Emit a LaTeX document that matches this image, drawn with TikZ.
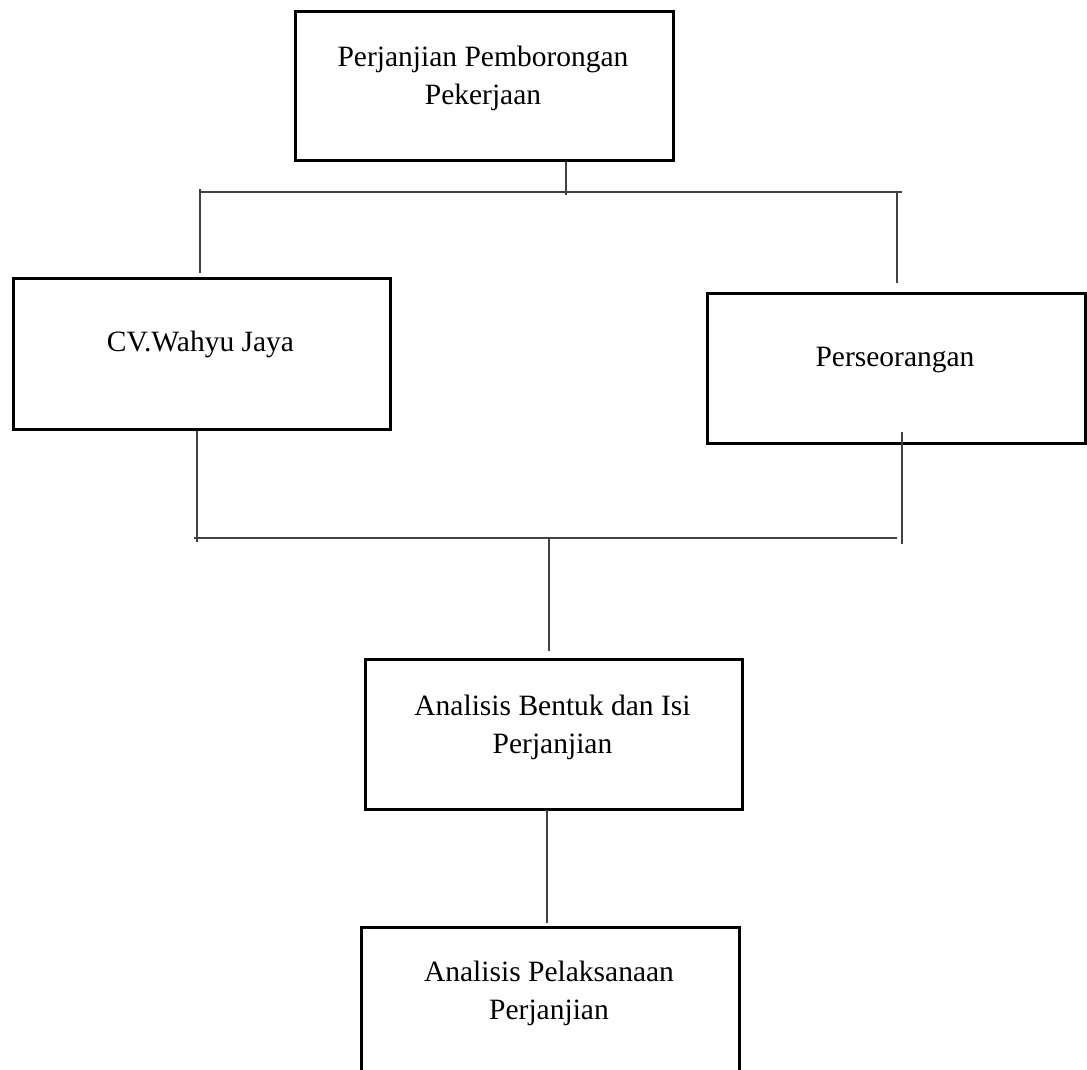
\documentclass[tikz,border=0pt]{standalone}
\usepackage{fontspec}
\setmainfont{Liberation Serif}
\begin{document}
\begin{tikzpicture}[x=1pt,y=-1pt,
  box/.style={draw=black,line width=2.8pt,rectangle,inner sep=0pt,anchor=north west},
  lbl/.style={font=\fontsize{29.5}{38}\selectfont,align=center,inner sep=0pt,anchor=base},
  conn/.style={draw=black!75,line width=1.4pt}]
\clip (0,0) rectangle (1087,1070);
\fill[white] (0,0) rectangle (1087,1070);
% boxes
\node[box,minimum width=378pt,minimum height=149pt] (b1) at (294,10) {};
\node[box,minimum width=377pt,minimum height=151pt] (b2) at (12,277) {};
\node[box,minimum width=378pt,minimum height=150pt] (b3) at (706,292) {};
\node[box,minimum width=377pt,minimum height=150pt] (b4) at (364,658) {};
\node[box,minimum width=378pt,minimum height=170pt] (b5) at (360,926) {};
% labels (base = baseline of the last line)
\node[lbl] (t1) at (483,105) {Perjanjian Pemborongan\\Pekerjaan};
\node[lbl] (t2) at (200.5,351) {CV.Wahyu Jaya};
\node[lbl] (t3) at (895,366) {Perseorangan};
\node[lbl] (t4) at (552.5,753) {Analisis Bentuk dan Isi\\Perjanjian};
\node[lbl] (t5) at (549,1019) {Analisis Pelaksanaan\\Perjanjian};
% coordinates
\coordinate (d1) at (566,195);
\coordinate (busAl) at (200,192);
\coordinate (busAr) at (902,192);
\coordinate (upL) at (200,189);
\coordinate (endL) at (200,273);
\coordinate (upR) at (897,192);
\coordinate (endR) at (897,283);
\coordinate (busBl) at (194,538);
\coordinate (busBr) at (897,538);
\coordinate (downL) at (197,542);
\coordinate (stR) at (902,432);
\coordinate (downR) at (902,544);
\coordinate (d3) at (549,538);
\coordinate (e3) at (549,651);
\coordinate (d4) at (547,810);
\coordinate (e4) at (547,923);
% connectors
\draw[conn] (b1.south -| d1) -- (d1);
\draw[conn] (busAl) -- (busAr);
\draw[conn] (upL) -- (endL);
\draw[conn] (upR) -- (endR);
\draw[conn] (b2.south -| downL) -- (downL);
\draw[conn] (stR) -- (downR);
\draw[conn] (busBl) -- (busBr);
\draw[conn] (d3) -- (e3);
\draw[conn] (d4) -- (e4);
\end{tikzpicture}
\end{document}
